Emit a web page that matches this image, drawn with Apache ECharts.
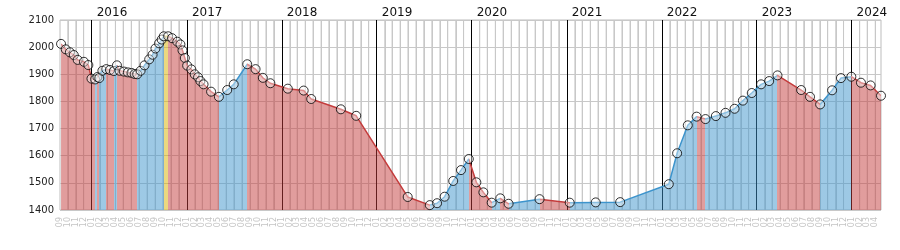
<!DOCTYPE html>
<html><head><meta charset="utf-8">
<script src="https://cdn.jsdelivr.net/npm/echarts@6/dist/echarts.min.js"></script>
<style>html,body{margin:0;padding:0;background:#fff}#c{width:900px;height:250px}</style>
</head><body><div id="c"></div>
<script>
const dates = [
 '2015-09-05','2015-09-23','2015-10-09','2015-10-24','2015-11-08','2015-12-02','2015-12-19','2015-12-31',
 '2016-01-14','2016-01-23','2016-01-30','2016-02-11','2016-02-26','2016-03-11','2016-03-26','2016-04-07',
 '2016-04-17','2016-05-04','2016-05-19','2016-06-02','2016-06-14','2016-06-24','2016-07-07','2016-07-22',
 '2016-08-09','2016-08-22','2016-09-02','2016-09-16','2016-09-26','2016-10-04','2016-10-21','2016-11-05',
 '2016-11-25','2016-12-07','2016-12-15','2016-12-24','2017-01-02','2017-01-18','2017-01-31','2017-02-13',
 '2017-02-22','2017-03-06','2017-04-04','2017-05-04','2017-06-05','2017-06-30','2017-08-21','2017-09-22',
 '2017-10-20','2017-11-18','2018-01-24','2018-03-26','2018-04-24','2018-08-16','2018-10-14','2019-04-30',
 '2019-07-24','2019-08-21','2019-09-19','2019-10-22','2019-11-21','2019-12-21','2020-01-19','2020-02-15',
 '2020-03-18','2020-04-20','2020-05-22','2020-09-18','2021-01-12','2021-04-22','2021-07-25','2022-01-28',
 '2022-03-01','2022-04-11','2022-05-15','2022-06-18','2022-07-28','2022-09-03','2022-10-08','2022-11-09',
 '2022-12-13','2023-01-18','2023-02-18','2023-03-22','2023-06-21','2023-07-25','2023-09-02','2023-10-18',
 '2023-11-21','2023-12-31','2024-02-06','2024-03-14','2024-04-23'
];
const prices = [
 2012,1992,1981,1971,1953,1946,1934,1884,
 1881,1890,1886,1913,1919,1916,1912,1933,
 1913,1910,1907,1905,1901,1900,1913,1933,
 1955,1972,1995,2014,2028,2040,2040,2033,
 2020,2010,1988,1960,1932,1918,1900,1889,
 1875,1863,1836,1817,1842,1863,1937,1919,
 1887,1867,1847,1840,1809,1771,1747,1448,
 1418,1425,1449,1507,1547,1588,1502,1465,
 1427,1443,1423,1440,1427,1428,1429,1495,
 1609,1712,1744,1735,1746,1758,1773,1803,
 1831,1863,1875,1896,1842,1817,1789,1841,
 1886,1891,1869,1859,1821
];
const yearLabels = [2016,2017,2018,2019,2020,2021,2022,2023,2024];
const yRange = [1400, 2100, 100];
const xRange = ['2015-09-01', '2024-04-23'];

function ts(s){const p=s.split('-').map(Number);return new Date(p[0],p[1]-1,p[2]).getTime();}
const xMin = ts(xRange[0]), xMax = ts(xRange[1]);
const months = [];
for (let y=2015, m=8;;) { const t = new Date(y,m,1).getTime(); if (t > xMax) break; months.push(t); m++; if (m>11){m=0;y++;} }
const otherMonths = months.filter(t => new Date(t).getMonth() !== 0 && t > xMin);
const yearStarts = yearLabels.map(y => new Date(y,0,1).getTime());
const pts = dates.map((d,i) => [ts(d), prices[i]]);
const RED='#c43c3c', BLUE='#3d94cc', YEL='#d9b100';
const pieces = [];
for (let i=0;i<pts.length-1;i++){
  const a=prices[i], b=prices[i+1];
  const p = {gte: pts[i][0], color: b>a?BLUE:(b<a?RED:YEL)};
  if (i === pts.length-2) p.lte = pts[i+1][0]; else p.lt = pts[i+1][0];
  pieces.push(p);
}
const monthLinePts = [];
otherMonths.forEach(t => { monthLinePts.push([t, yRange[0]], [t, yRange[1]], [t, '-']); });
const GRAY = '#c8c8c8';
const FONT = 'DejaVu Sans';
const chart = echarts.init(document.getElementById('c'), null, {renderer:'canvas'});
chart.setOption({
  animation:false,
  grid:{left:60,right:19,top:20,bottom:40,show:true,borderColor:'#bdbdbd',borderWidth:1},
  xAxis:[
    {type:'value',min:xMin,max:xMax,position:'bottom',scale:true,
     axisLine:{show:false}, axisTick:{show:false,customValues:months},
     splitLine:{show:false},
     axisLabel:{customValues:months, rotate:90, fontSize:8, color:'#c4c4c4', fontFamily:FONT, margin:7,
       formatter: v => String(new Date(v).getMonth()+1).padStart(2,'0')}
    },
    {type:'value',min:xMin,max:xMax,position:'top',scale:true,
     axisLine:{show:false}, axisTick:{show:false,customValues:otherMonths},
     splitLine:{show:true,lineStyle:{color:GRAY,width:1}},
     axisLabel:{show:false,customValues:otherMonths}
    },
    {type:'value',min:xMin,max:xMax,position:'top',scale:true,offset:0,
     axisLine:{show:false}, axisTick:{show:false,customValues:yearStarts},
     splitLine:{show:true,lineStyle:{color:'#000',width:1}},
     axisLabel:{customValues:yearStarts, fontSize:12, color:'#111', fontFamily:FONT, margin:1, align:'left', padding:[0,0,0,5],
       formatter: v => String(new Date(v).getFullYear())}
    }
  ],
  yAxis:{type:'value',min:yRange[0],max:yRange[1],interval:yRange[2],
    axisLine:{show:false}, axisTick:{show:false},
    splitLine:{lineStyle:{color:GRAY}},
    axisLabel:{fontSize:10,color:'#222',fontFamily:FONT,margin:6, formatter: v => String(v)}},
  visualMap:{show:false,type:'piecewise',dimension:0,seriesIndex:0,pieces:pieces},
  series:[
    {type:'line',data:pts,xAxisIndex:0,showSymbol:false,symbol:'none',lineStyle:{width:1.5},areaStyle:{opacity:0.5},z:2,silent:true},
    {type:'scatter',data:pts,xAxisIndex:0,symbol:'circle',symbolSize:9,
     itemStyle:{color:'rgba(255,255,255,0.5)',borderColor:'#000',borderWidth:1},z:3,silent:true},
    {type:'line',xAxisIndex:0,z:1,silent:true,connectNulls:false,showSymbol:false,symbol:'none',
     data: monthLinePts, lineStyle:{color:GRAY,width:1}, itemStyle:{color:GRAY}}
  ]
});
</script></body></html>
